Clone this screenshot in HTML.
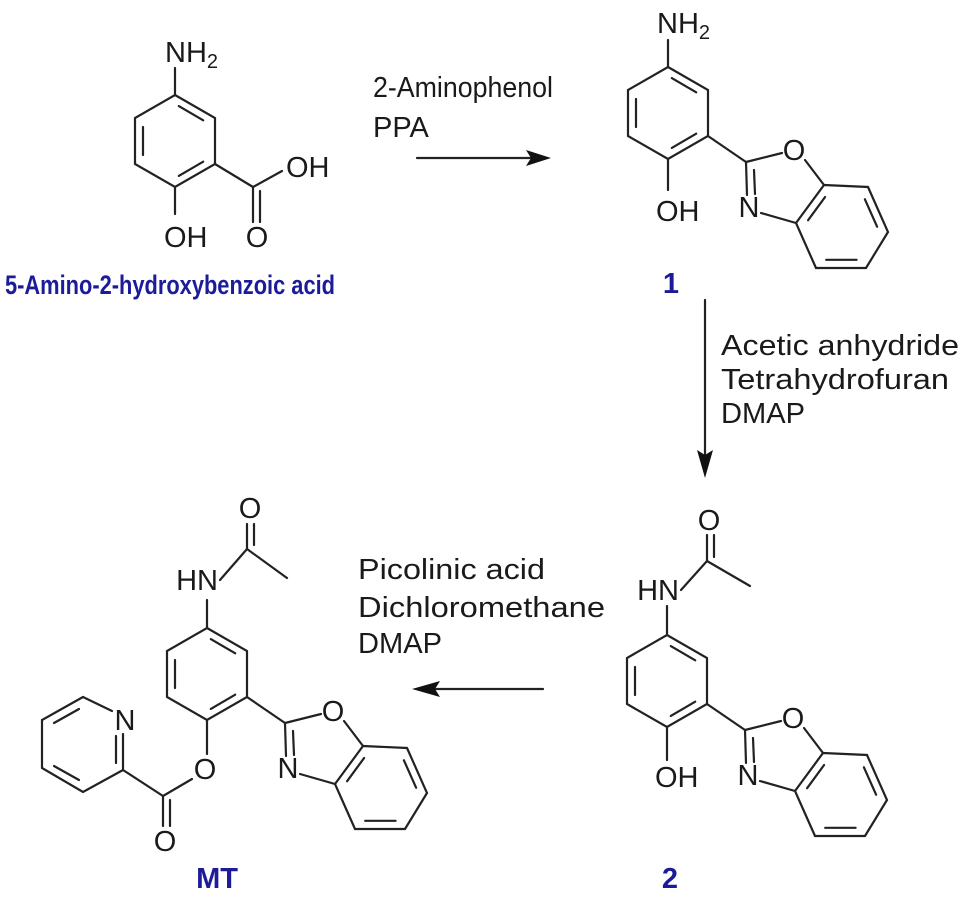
<!DOCTYPE html>
<html><head><meta charset="utf-8"><style>
html,body{margin:0;padding:0;background:#fff;}
svg{display:block;}
text{font-family:"Liberation Sans",Arial,sans-serif;fill:#1a1a1a;}
.b{stroke:#222;stroke-width:2.2;fill:none;stroke-linecap:round;}
.lab{font-size:29px;}
.blue{fill:#1c1c9a;font-weight:bold;font-size:29px;}
.rg{font-size:29px;}
</style></head><body>
<svg width="970" height="904" viewBox="0 0 970 904" xmlns="http://www.w3.org/2000/svg">
<defs>
<g id="ph">
  <path class="b" d="M0,0 L40,23 L40,69 L0,92 L-40,69 L-40,23 Z"/>
  <line class="b" x1="3.8" y1="11.1" x2="28.2" y2="25.3"/>
  <line class="b" x1="-32" y1="60" x2="-32" y2="32"/>
  <line class="b" x1="28.2" y1="66.7" x2="3.8" y2="80.9"/>
</g>
<g id="bz">
  <line class="b" x1="40" y1="69" x2="78" y2="95"/>
  <line class="b" x1="78" y1="95" x2="114" y2="86"/>
  <line class="b" x1="137" y1="93" x2="156" y2="118"/>
  <line class="b" x1="78" y1="95" x2="79" y2="128"/>
  <line class="b" x1="86" y1="103" x2="87" y2="127"/>
  <line class="b" x1="93" y1="146" x2="128" y2="156"/>
  <path class="b" d="M156,118 L200,120 L220,165 L198,201 L148,201 L128,156 Z"/>
  <line class="b" x1="157.1" y1="130" x2="140.1" y2="153.2"/>
  <line class="b" x1="196.9" y1="132.3" x2="209.1" y2="159.7"/>
  <line class="b" x1="188.6" y1="192.8" x2="158.2" y2="192.8"/>
  <text class="lab" x="126" y="93" text-anchor="middle">O</text>
  <text class="lab" x="81" y="150" text-anchor="middle">N</text>
</g>
</defs>

<!-- Molecule A -->
<use href="#ph" x="175" y="95"/>
<line class="b" x1="175" y1="95" x2="175" y2="68"/>
<text class="lab" x="165" y="62">NH<tspan font-size="20" dy="6">2</tspan></text>
<line class="b" x1="175" y1="187" x2="175" y2="214"/>
<text class="lab" x="164" y="247">OH</text>
<line class="b" x1="215" y1="164" x2="253" y2="187"/>
<line class="b" x1="253" y1="187" x2="282" y2="171"/>
<text class="lab" x="286" y="177">OH</text>
<line class="b" x1="253" y1="187" x2="253" y2="222"/>
<line class="b" x1="260" y1="191" x2="260" y2="222"/>
<text class="lab" x="257" y="247" text-anchor="middle">O</text>
<text class="blue" x="5" y="294" style="font-size:27px" textLength="330" lengthAdjust="spacingAndGlyphs">5-Amino-2-hydroxybenzoic acid</text>

<!-- Arrow 1 -->
<text class="rg" x="373" y="97" textLength="180" lengthAdjust="spacingAndGlyphs">2-Aminophenol</text>
<text class="rg" x="373" y="137">PPA</text>
<line class="b" x1="417" y1="158" x2="535" y2="158"/>
<polygon points="551,158 526,150 531,158 526,166" fill="#111"/>

<!-- Molecule 1 -->
<use href="#ph" x="668" y="67"/>
<line class="b" x1="668" y1="67" x2="668" y2="40"/>
<text class="lab" x="657" y="33">NH<tspan font-size="20" dy="6">2</tspan></text>
<line class="b" x1="668" y1="159" x2="668" y2="190"/>
<text class="lab" x="656" y="221">OH</text>
<use href="#bz" x="668" y="67"/>
<text class="blue" x="671" y="293" text-anchor="middle">1</text>

<!-- Arrow 2 -->
<line class="b" x1="705" y1="300" x2="705" y2="460"/>
<polygon points="705,478 697,450 705,455 713,450" fill="#111"/>
<text class="rg" x="721" y="355" textLength="238" lengthAdjust="spacingAndGlyphs">Acetic anhydride</text>
<text class="rg" x="721" y="389" textLength="228" lengthAdjust="spacingAndGlyphs">Tetrahydrofuran</text>
<text class="rg" x="721" y="423" textLength="84" lengthAdjust="spacingAndGlyphs">DMAP</text>

<!-- Molecule 2 -->
<use href="#ph" x="667" y="635"/>
<line class="b" x1="667" y1="635" x2="667" y2="606"/>
<text class="lab" x="679" y="600" text-anchor="end">HN</text>
<line class="b" x1="681" y1="590" x2="707" y2="561"/>
<line class="b" x1="707" y1="561" x2="750" y2="586"/>
<line class="b" x1="707" y1="561" x2="707" y2="535"/>
<line class="b" x1="714" y1="557" x2="714" y2="535"/>
<text class="lab" x="709" y="530" text-anchor="middle">O</text>
<line class="b" x1="667" y1="727" x2="667" y2="760"/>
<text class="lab" x="655" y="787">OH</text>
<use href="#bz" x="667" y="635"/>
<text class="blue" x="670" y="888" text-anchor="middle">2</text>

<!-- Arrow 3 -->
<text class="rg" x="358" y="579" textLength="187" lengthAdjust="spacingAndGlyphs">Picolinic acid</text>
<text class="rg" x="358" y="617" textLength="247" lengthAdjust="spacingAndGlyphs">Dichloromethane</text>
<text class="rg" x="358" y="653" textLength="84" lengthAdjust="spacingAndGlyphs">DMAP</text>
<line class="b" x1="543" y1="689" x2="430" y2="689"/>
<polygon points="412,689 440,681 435,689 440,697" fill="#111"/>

<!-- MT -->
<use href="#ph" x="207" y="628"/>
<line class="b" x1="207" y1="628" x2="207" y2="600"/>
<text class="lab" x="218" y="590" text-anchor="end">HN</text>
<line class="b" x1="220" y1="580" x2="247" y2="549"/>
<line class="b" x1="247" y1="549" x2="287" y2="578"/>
<line class="b" x1="247" y1="549" x2="247" y2="524"/>
<line class="b" x1="254" y1="545" x2="254" y2="524"/>
<text class="lab" x="250" y="518" text-anchor="middle">O</text>
<use href="#bz" x="207" y="628"/>
<line class="b" x1="207" y1="720" x2="207" y2="754"/>
<text class="lab" x="205" y="779" text-anchor="middle">O</text>
<line class="b" x1="192" y1="779" x2="163" y2="796"/>
<line class="b" x1="163" y1="796" x2="163" y2="826"/>
<line class="b" x1="170" y1="800" x2="170" y2="826"/>
<text class="lab" x="165" y="851" text-anchor="middle">O</text>
<line class="b" x1="163" y1="796" x2="123" y2="770"/>
<line class="b" x1="123" y1="770" x2="123" y2="734"/>
<line class="b" x1="116" y1="763" x2="116" y2="736"/>
<text class="lab" x="125" y="730" text-anchor="middle">N</text>
<line class="b" x1="112" y1="711" x2="83" y2="697"/>
<path class="b" d="M83,697 L42,720 L42,768 L83,792 L123,770"/>
<line class="b" x1="79" y1="709" x2="54" y2="723"/>
<line class="b" x1="54" y1="766" x2="79" y2="780"/>
<text class="blue" x="217" y="888" text-anchor="middle">MT</text>
</svg>
</body></html>
